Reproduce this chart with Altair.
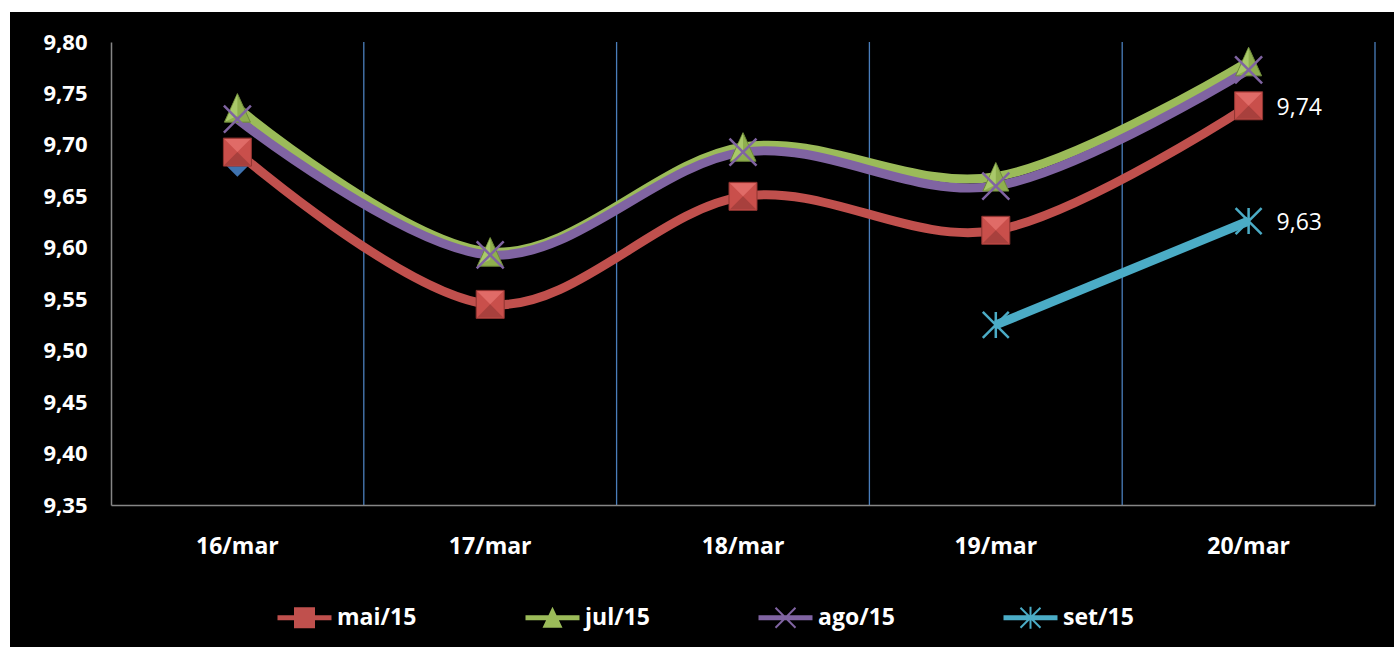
import altair as alt
import pandas as pd

# Categories and series values
dates = ["16/mar", "17/mar", "18/mar", "19/mar", "20/mar"]
series = ["mai/15", "jul/15", "ago/15", "set/15"]
mai_15 = [9.693, 9.545, 9.650, 9.617, 9.738]
jul_15 = [9.736, 9.596, 9.698, 9.669, 9.781]
ago_15 = [9.725, 9.593, 9.693, 9.660, 9.773]
set_15 = [None, None, None, 9.525, 9.626]
# single marker of an unlisted series, mostly hidden under the first square
extra_dates = ["16/mar"]
extra_vals = [9.682]
y_ticks = [9.35, 9.40, 9.45, 9.50, 9.55, 9.60, 9.65, 9.70, 9.75, 9.80]
labelled_series = ["mai/15", "set/15"]

colors = ["#C0504D", "#9BBB59", "#8064A2", "#4BACC6"]
FONT = "Open Sans"

rows = []
for name, vals in zip(series, [mai_15, jul_15, ago_15, set_15]):
    for d, v in zip(dates, vals):
        if v is not None:
            rows.append({"date": d, "series": name, "value": v,
                         "labelled": (d == dates[-1]) and (name in labelled_series)})
df = pd.DataFrame(rows)

W, H = 1264, 463

x_scale = alt.Scale(type="band", domain=dates, paddingInner=0, paddingOuter=0)
y_scale = alt.Scale(domain=[9.35, 9.80], zero=False, nice=False)

x_axis = alt.Axis(title=None, labelFont=FONT, labelFontSize=23, labelFontWeight="bold",
                  labelColor="white", ticks=False, grid=False, domainColor="#868686",
                  domainWidth=1.5, labelPadding=30, labelAngle=0, zindex=1)
y_axis = alt.Axis(title=None, values=y_ticks,
                  labelExpr="replace(format(datum.value, '.2f'), '.', ',')",
                  labelFont=FONT, labelFontSize=22, labelFontWeight="bold",
                  labelColor="white", ticks=False, grid=False, domainColor="#868686",
                  domainWidth=1.5, labelPadding=24, zindex=1)


def X(pos=0.5):
    return alt.X("date:O", scale=x_scale, axis=x_axis, bandPosition=pos)


def Y():
    return alt.Y("value:Q", scale=y_scale, axis=y_axis)


# black panel behind everything
panel = alt.Chart(pd.DataFrame({"k": [0]})).mark_rect(color="black").encode(
    x=alt.value(-101), x2=alt.value(1283), y=alt.value(-30), y2=alt.value(605)
)

# vertical separators at the right edge of each category band
grid = alt.Chart(pd.DataFrame({"date": dates})).mark_rule(
    color="#4A7EBB", strokeWidth=1.3
).encode(x=X(1), y=alt.value(0), y2=alt.value(H))

layers = [panel, grid]

for name, col in zip(series, colors):
    layers.append(
        alt.Chart(df).transform_filter(alt.datum.series == name).mark_line(
            interpolate="cardinal", strokeWidth=9, color=col
        ).encode(x=X(), y=Y())
    )

extra = alt.Chart(pd.DataFrame({"date": extra_dates, "value": extra_vals})).mark_point(
    shape="diamond", size=700, filled=True, color="#3F73B0", opacity=1
).encode(x=X(), y=Y())
layers.append(extra)


def marker(name, **kw):
    kw.setdefault("opacity", 1)
    return alt.Chart(df).transform_filter(alt.datum.series == name).mark_point(**kw).encode(x=X(), y=Y())


# square markers with pyramid-like facets
layers.append(marker("mai/15", shape="square", size=784, filled=True, color="#C94F4B",
                     stroke="#8E3431", strokeWidth=1))
layers.append(marker("mai/15", shape="M-0.93,-0.93L0.93,-0.93L0,0Z", size=784, filled=True,
                     color="#E06B67", strokeWidth=0))
layers.append(marker("mai/15", shape="M-0.93,0.93L0.93,0.93L0,0Z", size=784, filled=True,
                     color="#A8403D", strokeWidth=0))
# triangle markers with a lit left face
layers.append(marker("jul/15", shape="M0,-1.1L1,1.1L-1,1.1Z", size=676, filled=True,
                     color="#8FAF4E", stroke="#6E8A3A", strokeWidth=1))
layers.append(marker("jul/15", shape="M0,-1.05L0,0.6L-0.92,1.05Z", size=676, filled=True,
                     color="#A9C96A", strokeWidth=0))
layers.append(marker("ago/15", shape="M-1,-1L1,1M-1,1L1,-1", size=729, filled=False,
                     color=colors[2], strokeWidth=2.5))
layers.append(marker("set/15", shape="M-1,-1L1,1M-1,1L1,-1M0,-1L0,1", size=676, filled=False,
                     color=colors[3], strokeWidth=2.5))

# value labels on the last day
labels = alt.Chart(df).transform_filter("datum.labelled").transform_calculate(
    label="replace(format(datum.value, '.2f'), '.', ',')"
).mark_text(align="left", baseline="middle", dx=28, dy=2, fontSize=23, font=FONT,
            color="white").encode(
    x=X(), y=Y(), text="label:N"
)
layers.append(labels)

# legend glyphs: line segment plus marker
seg = "M-2.7,-0.25H2.7V0.25H-2.7Z"
legend_paths = [
    seg + "M-1.05,-1.05H1.05V1.05H-1.05Z",
    seg + "M0,-1.1L1,1L-1,1Z",
    seg + "M-0.93,-1.07L1.07,0.93L0.93,1.07L-1.07,-0.93Z"
          "M-0.93,1.07L-1.07,0.93L0.93,-1.07L1.07,-0.93Z",
    seg + "M-0.93,-1.07L1.07,0.93L0.93,1.07L-1.07,-0.93Z"
          "M-0.93,1.07L-1.07,0.93L0.93,-1.07L1.07,-0.93Z"
          "M-0.1,-1.1H0.1V1.1H-0.1Z",
]
leg = alt.Legend(
    orient="none", legendX=182, legendY=564, direction="horizontal", title=None,
    labelFont=FONT, labelFontSize=23, labelFontWeight="bold", labelColor="white",
    symbolSize=400, symbolStrokeWidth=0, symbolOpacity=1, labelOffset=21,
    columnPadding=108, padding=0,
)
legend_layer = alt.Chart(df).mark_point(filled=True, opacity=0, size=400).encode(
    x=X(), y=Y(),
    color=alt.Color("series:N", scale=alt.Scale(domain=series, range=colors), legend=leg),
    shape=alt.Shape("series:N", scale=alt.Scale(domain=series, range=legend_paths), legend=leg),
)
layers.append(legend_layer)

chart = alt.layer(*layers).properties(
    width=W, height=H, background="white",
    padding={"left": 10, "top": 12, "right": 0, "bottom": 0},
).configure_view(stroke=None)

chart.save("out.html", embed_options={"renderer": "svg", "actions": False})
